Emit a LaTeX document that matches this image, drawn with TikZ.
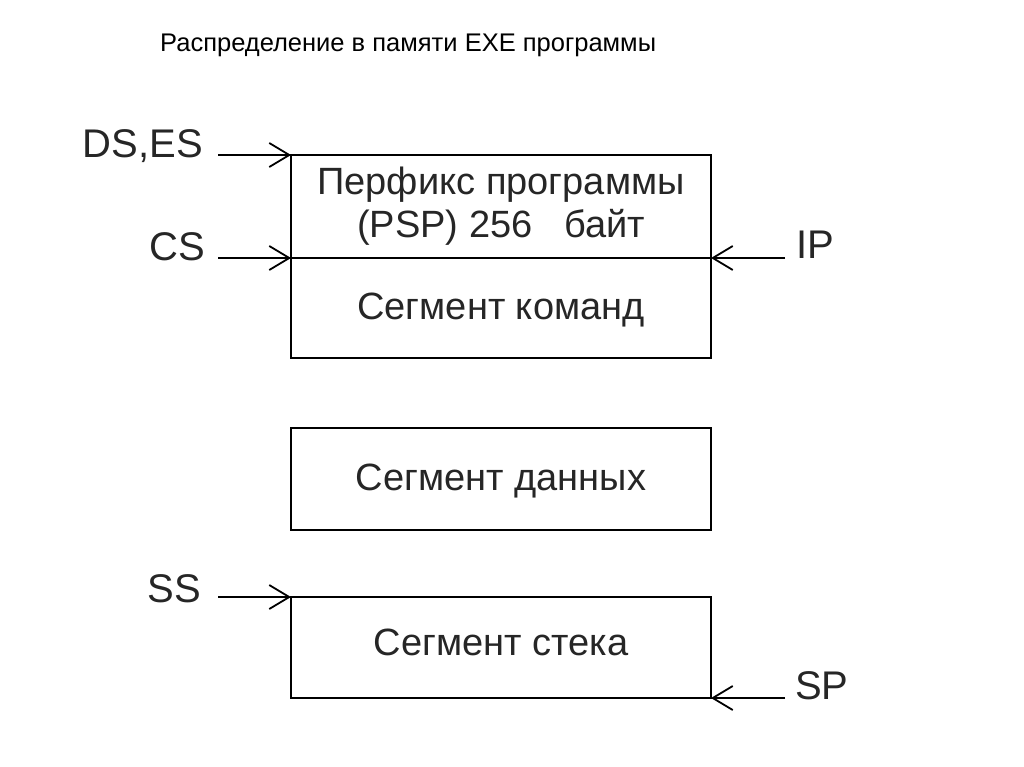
\documentclass[tikz,border=0pt]{standalone}
\usepackage{fontspec}
\setmainfont{Liberation Sans}
\usetikzlibrary{arrows.meta}
\begin{document}
\begin{tikzpicture}[x=1pt,y=-1pt,
  seg/.style={draw=black, line width=2pt, minimum width=420pt, inner sep=0pt, outer sep=0pt, anchor=north west, text=black!85},
  lbl/.style={font=\fontsize{40}{44}\selectfont, text=black!85, inner sep=0pt},
  boxtxt/.style={font=\fontsize{38}{43}\selectfont},
  ptr/.style={line width=2pt, -{Straight Barb[length=20pt,width=24pt,line width=1.8pt]}}
]
\useasboundingbox (0,0) rectangle (1024,767);
\node[anchor=west, font=\fontsize{25.5}{30}\selectfont, inner sep=0pt] (title) at (160,45) {Распределение в памяти EXE программы};

\node[seg, minimum height=103pt, boxtxt, align=center] (psp) at (291,155) {Перфикс программы\\(PSP) 256\ \ \ байт};
\node[seg, minimum height=100pt, boxtxt, text depth=4pt] (code) at (291,258) {Сегмент команд};
\node[seg, minimum height=102pt, boxtxt, text depth=4pt] (data) at (291,428) {Сегмент данных};
\node[seg, minimum height=101pt, boxtxt, text depth=10pt] (stack) at (291,597) {Сегмент стека};

\node[lbl, anchor=east] (dses) at (203,146) {DS,ES};
\node[lbl, anchor=east] (cs) at (205,247) {CS};
\node[lbl, anchor=west] (ip) at (796,245) {IP};
\node[lbl, anchor=east] (ss) at (201,589) {SS};
\node[lbl, anchor=west] (sp) at (795,686) {SP};

\coordinate (dsesS) at (218,155);
\coordinate (csS) at (218,258);
\coordinate (ipS) at (785,258);
\coordinate (ssS) at (218,597);
\coordinate (spS) at (785,698);

\draw[ptr] (dsesS) -- (psp.north west);
\draw[ptr] (csS) -- (psp.south west);
\draw[ptr] (ipS) -- (psp.south east);
\draw[ptr] (ssS) -- (stack.north west);
\draw[ptr] (spS) -- (stack.south east);
\end{tikzpicture}
\end{document}
